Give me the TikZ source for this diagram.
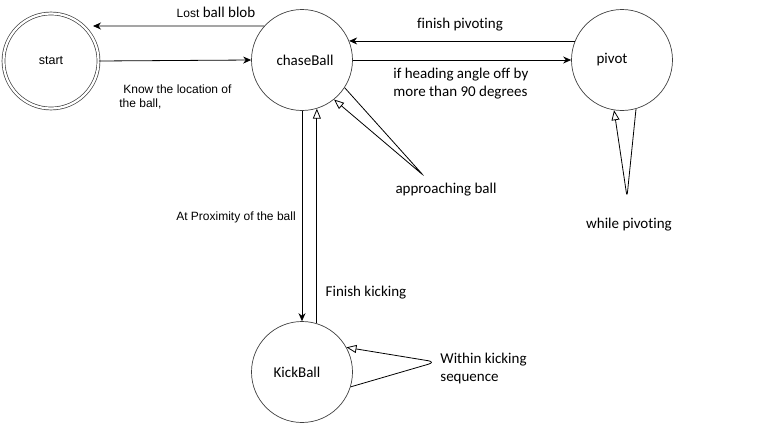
\documentclass[tikz,border=0pt]{standalone}
\usepackage{fontspec}
\setmainfont[Ligatures=NoCommon]{Carlito}
\newfontfamily\arialfont{Liberation Sans}
\usetikzlibrary{arrows.meta}
\begin{document}
\begin{tikzpicture}[x=1pt,y=-1pt,line width=0.8pt,
		state/.style={draw=black!75,circle,minimum size=101pt,inner sep=0pt,line width=0.7pt,font=\fontsize{15}{18}\selectfont},
		lbl/.style={font=\fontsize{15}{18}\selectfont,inner sep=0pt},
		albl/.style={font=\arialfont\fontsize{12}{14}\selectfont,inner sep=0pt},
		go/.style={-{Stealth[length=8pt,width=7pt]}},
		back/.style={-{Triangle[open,length=10pt,width=8pt]}}]
		\useasboundingbox (0,0) rectangle (763,423);
		\node[state,double,double distance=2.2pt,minimum size=95pt,font=\arialfont\fontsize{12.5}{14}\selectfont] (start) at (51,61) {start};
		\node[state] (chase) at (302,60) {\hspace*{6pt}chaseBall};
		\node[state] (pivot) at (622,60) {pivot\hspace*{20pt}};
		\node[state] (kick) at (302,372) {KickBall\hspace*{10pt}};
		\coordinate (lostend) at (93,26);
		\coordinate (apptip) at (423,175);
		\coordinate (pivtip) at (627,197);
		\coordinate (kicktip) at (436,362);
		\draw[go] (chase.138) -- (lostend);
		\draw[go] (start.east) -- (chase.west);
		\draw[go] (pivot.158) -- (chase.22);
		\draw[go] (chase.east) -- (pivot.west);
		\draw[go] (chase.south) -- (kick.north);
		\draw[back] (kick.73) -- (chase.-73);
		\draw[back,rounded corners=2pt] (chase.-33) -- (apptip) -- (chase.-51);
		\draw[back,rounded corners=5pt] (pivot.-74) -- (pivtip) -- (pivot.-99);
		\draw[back,rounded corners=8pt] (kick.-17) -- (kicktip) -- (kick.29);
		\node[lbl] (lostlbl) at (216,12) {{\arialfont\fontsize{12}{14}\selectfont Lost} ball blob};
		\node[albl,anchor=west,align=left] (knowlbl) at (119,97) {\hspace*{4pt}Know the location of\\the ball,};
		\node[lbl] (finlbl) at (460,25) {finish pivoting};
		\node[lbl,anchor=west,align=left] (headlbl) at (393,84) {if heading angle off by\\more than 90 degrees};
		\node[lbl] (applbl) at (446,190) {approaching ball};
		\node[lbl] (whilelbl) at (629,225) {while pivoting};
		\node[albl] (proxlbl) at (236,217) {At Proximity of the ball};
		\node[lbl] (kicklbl) at (366,293) {Finish kicking};
		\node[lbl,anchor=west,align=left] (seqlbl) at (440,368) {Within kicking\\sequence};
	\end{tikzpicture}
\end{document}
